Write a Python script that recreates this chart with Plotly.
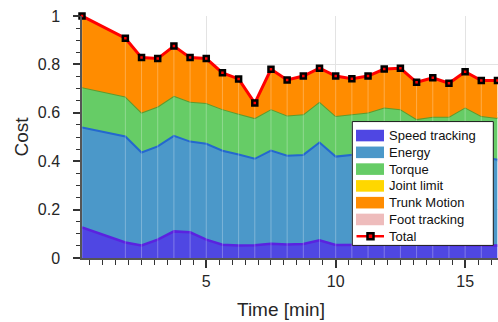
import plotly.graph_objects as go

# ---- data ----
time_min = [0.2, 1.875, 2.5, 3.125, 3.75, 4.375, 5.0, 5.625, 6.25, 6.875, 7.5, 8.125,
            8.75, 9.375, 10.0, 10.625, 11.25, 11.875, 12.5, 13.125, 13.75, 14.375,
            15.0, 15.625, 16.25]
speed_tracking = [0.126, 0.064, 0.052, 0.076, 0.110, 0.106, 0.076, 0.055, 0.052, 0.053,
                  0.059, 0.056, 0.058, 0.073, 0.054, 0.055, 0.055, 0.055, 0.055, 0.055,
                  0.054, 0.054, 0.053, 0.053, 0.052]
energy = [0.413, 0.438, 0.384, 0.385, 0.395, 0.375, 0.396, 0.388, 0.376, 0.357, 0.385,
          0.367, 0.368, 0.404, 0.365, 0.371, 0.378, 0.399, 0.392, 0.351, 0.362, 0.362,
          0.401, 0.366, 0.354]
torque = [0.167, 0.165, 0.165, 0.165, 0.165, 0.165, 0.168, 0.172, 0.168, 0.168, 0.171,
          0.166, 0.168, 0.169, 0.168, 0.168, 0.168, 0.168, 0.168, 0.168, 0.168, 0.168,
          0.168, 0.168, 0.172]
joint_limit = [0.0] * 25
trunk_motion = [0.294, 0.241, 0.227, 0.198, 0.206, 0.182, 0.184, 0.150, 0.144, 0.062,
                0.165, 0.147, 0.158, 0.138, 0.165, 0.147, 0.151, 0.159, 0.169, 0.152,
                0.161, 0.138, 0.148, 0.146, 0.155]
foot_tracking = [0.0] * 25
total = [1.0, 0.908, 0.828, 0.824, 0.876, 0.828, 0.824, 0.765, 0.740, 0.640, 0.780,
         0.736, 0.752, 0.784, 0.752, 0.741, 0.752, 0.781, 0.784, 0.726, 0.745, 0.722,
         0.770, 0.733, 0.733]

series_names = ["Speed tracking", "Energy", "Torque", "Joint limit", "Trunk Motion", "Foot tracking"]
series_values = [speed_tracking, energy, torque, joint_limit, trunk_motion, foot_tracking]
fill_colors = ["#4f47e3", "#4b98c9", "#66cc66", "#ffd700", "#ff8c00", "#eebcbc"]
edge_colors = ["#5a22e0", "#2468cf", "#5f9a2e", "#ffd700", "#ff8c00", "#eebcbc"]
edge_widths = [2.5, 2.0, 2.0, 0, 0, 0]

FONT = "Liberation Sans, Arial, Helvetica, sans-serif"
TXT = "#262626"

W, H = 498, 322
ML, MR, MT, MB = 82, 0, 16, 63.7
PW, PH = W - ML - MR, H - MT - MB


def px_x(px):
    return (px - ML) / PW


def px_y(py):
    return (H - MB - py) / PH


fig = go.Figure()

for name, vals, fc, ec, ew in zip(series_names, series_values, fill_colors, edge_colors, edge_widths):
    fig.add_trace(go.Scatter(
        x=time_min, y=vals, name=name, stackgroup="cost", mode="lines",
        line=dict(color=ec, width=ew), fillcolor=fc, showlegend=False,
        hoverinfo="skip"))

# faint seams at each sample
seam_x, seam_y = [], []
for t, v in zip(time_min, total):
    seam_x += [t, t, None]
    seam_y += [0, v, None]
fig.add_trace(go.Scatter(x=seam_x, y=seam_y, mode="lines",
                         line=dict(color="rgba(255,255,255,0.28)", width=1),
                         showlegend=False, hoverinfo="skip"))

fig.add_trace(go.Scatter(
    x=time_min, y=total, name="Total", mode="lines+markers",
    line=dict(color="#ff0000", width=3),
    marker=dict(symbol="square", size=5, color="#ff0000",
                line=dict(color="#000000", width=2.5)),
    cliponaxis=False, showlegend=False))

# ---- legend box drawn by hand (to match the reference spacing) ----
shapes, annotations = [], []
LX0, LX1, LY0, LY1 = 352.3, 493.3, 121.7, 245.7
shapes.append(dict(type="rect", xref="paper", yref="paper", layer="above",
                   x0=px_x(LX0), x1=px_x(LX1), y0=px_y(LY1), y1=px_y(LY0),
                   fillcolor="white", line=dict(color="#1a1a1a", width=1)))
row0, dy = 135.7, 16.8
legend_names = series_names + ["Total"]
for i, name in enumerate(legend_names):
    cy = row0 + i * dy
    if i < len(fill_colors):
        shapes.append(dict(type="rect", xref="paper", yref="paper", layer="above",
                           x0=px_x(356), x1=px_x(384), y0=px_y(cy + 5.8), y1=px_y(cy - 5.8),
                           fillcolor=fill_colors[i], line=dict(width=0)))
    else:
        shapes.append(dict(type="line", xref="paper", yref="paper", layer="above",
                           x0=px_x(356.5), x1=px_x(384), y0=px_y(cy), y1=px_y(cy),
                           line=dict(color="#ff0000", width=2.5)))
        shapes.append(dict(type="rect", xref="paper", yref="paper", layer="above",
                           x0=px_x(367.5), x1=px_x(373.5), y0=px_y(cy + 3), y1=px_y(cy - 3),
                           fillcolor="#ff0000", line=dict(color="#000000", width=2.5)))
    annotations.append(dict(text=name, xref="paper", yref="paper", x=px_x(387.2), y=px_y(cy),
                            xanchor="left", yanchor="middle", showarrow=False,
                            font=dict(size=13, color="#111111", family=FONT)))

# x-axis title (placed as in the reference, slightly left of the plot-area centre)
annotations.append(dict(text="Time [min]", xref="paper", yref="paper",
                        x=px_x(280.5), y=px_y(309.5), xanchor="center", yanchor="middle",
                        showarrow=False, font=dict(size=19, color=TXT, family=FONT)))

fig.update_layout(
    width=W, height=H,
    margin=dict(l=ML, r=MR, t=MT, b=MB),
    paper_bgcolor="white", plot_bgcolor="white",
    font=dict(family=FONT, color=TXT, size=16),
    showlegend=False,
    shapes=shapes, annotations=annotations,
)
fig.update_xaxes(
    range=[0.2, 16.27], tick0=0, dtick=5, showgrid=True, gridcolor="#e3e3e3", gridwidth=1,
    ticks="outside", ticklen=8, tickwidth=1.5, tickcolor="#333333",
    showline=True, linecolor="#555555", linewidth=1.5,
    minor=dict(dtick=0.5, tick0=0, ticks="outside", ticklen=5, tickwidth=1.3,
               tickcolor="#333333", showgrid=False),
    tickfont=dict(size=16, color=TXT), zeroline=False, automargin=False,
)
fig.update_yaxes(
    range=[0, 1], tick0=0, dtick=0.2, showgrid=True, gridcolor="#e3e3e3", gridwidth=1,
    ticks="outside", ticklen=7, tickwidth=1.5, tickcolor="#333333",
    showline=True, linecolor="#555555", linewidth=1.5,
    minor=dict(dtick=0.05, tick0=0, ticks="outside", ticklen=4, tickwidth=1.3,
               tickcolor="#333333", showgrid=False),
    tickfont=dict(size=16, color=TXT), zeroline=False, ticklabelstandoff=10, automargin=False,
    title=dict(text="Cost", font=dict(size=19, color=TXT), standoff=4),
)

fig.write_html("out.html", config={"displayModeBar": False},
               post_script="document.body.style.margin='0';")
